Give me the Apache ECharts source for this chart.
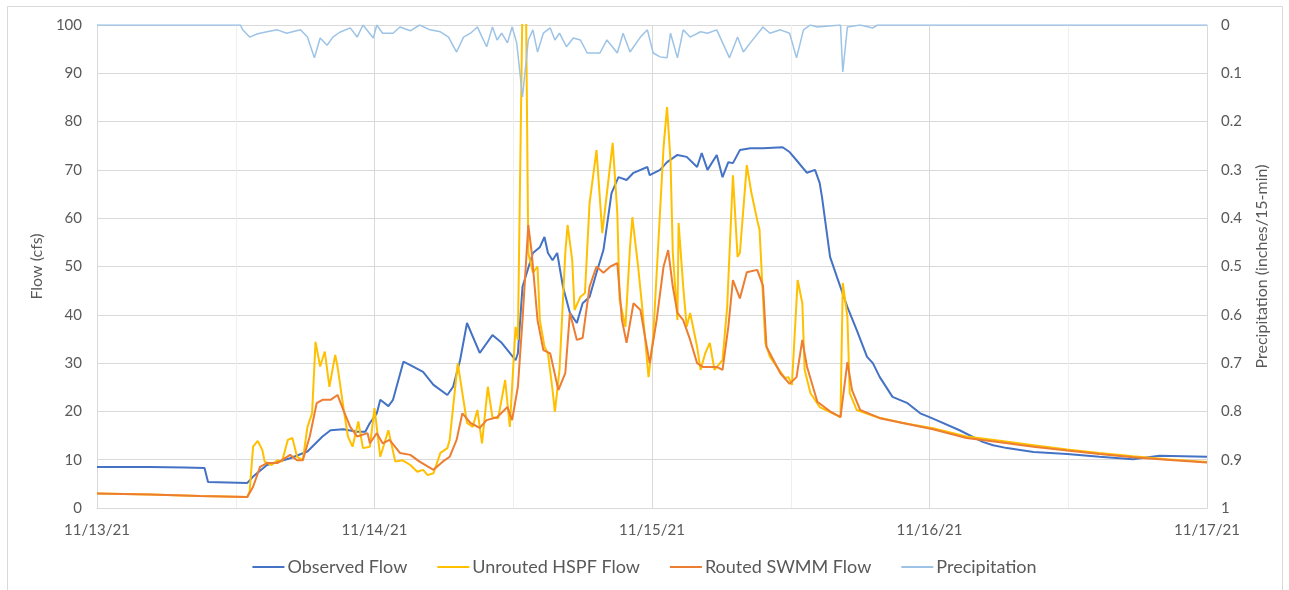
<!DOCTYPE html>
<html>
<head>
<meta charset="utf-8">
<script src="https://cdn.jsdelivr.net/npm/echarts@6/dist/echarts.min.js"></script>
<style>
  html, body { margin: 0; padding: 0; background: #fff; }
  #chart { width: 1289px; height: 590px; }
</style>
</head>
<body>
<div id="chart"></div>
<script>
// x values are hours after 11/13/21 00:00
const dateLabels = ['11/13/21', '11/14/21', '11/15/21', '11/16/21', '11/17/21']

const observedFlow = [
  [0, 8.5], [4.6, 8.5], [7.6, 8.4], [9.3, 8.3], [9.6, 5.4], [13.0, 5.2], [13.5, 6.5],
  [14.7, 8.9], [16.7, 10.3], [18.2, 11.7], [19.5, 14.8], [20.2, 16.1], [21.3, 16.3],
  [22.5, 15.8], [23.2, 15.8], [23.6, 17.6], [24.2, 19.6], [24.5, 22.4], [25.2, 21.1],
  [25.6, 22.4], [26.5, 30.3], [27.1, 29.6], [28.2, 28.2], [29.1, 25.5], [30.3, 23.4],
  [30.8, 25.1], [31.4, 30.6], [32.0, 38.3], [33.1, 32.1], [34.2, 35.8], [35.0, 34.2],
  [36.2, 30.6], [36.4, 32], [36.8, 45.8], [37.7, 52.8], [38.3, 54], [38.7, 56.1],
  [39.0, 52.8], [39.4, 51.3], [39.8, 52.8], [40.3, 45.8], [40.9, 40.4], [41.5, 38.3],
  [42.0, 42.4], [42.6, 43.7], [43.2, 48.7], [43.8, 53.4], [44.5, 65.2], [45.1, 68.5],
  [45.8, 67.9], [46.4, 69.4], [47.6, 70.6], [47.8, 68.9], [48.7, 70], [49.3, 71.6],
  [50.2, 73.1], [51.0, 72.7], [51.9, 70.6], [52.3, 73.5], [52.8, 70], [53.6, 73.1],
  [54.1, 68.5], [54.6, 71.6], [55.0, 71.4], [55.6, 74.1], [56.5, 74.5], [57.6, 74.5],
  [59.3, 74.7], [59.9, 73.7], [60.5, 72], [61.4, 69.4], [62.1, 70], [62.5, 67.3],
  [62.7, 64.4], [63.4, 52], [64.0, 47.8], [64.9, 41.6], [65.7, 36.9], [66.6, 31.3],
  [67.1, 30], [67.7, 27.1], [68.8, 23], [70.1, 21.7], [71.2, 19.6], [72.0, 18.8],
  [72.6, 18.2], [74.6, 16.1], [76.6, 13.7], [77.5, 13], [78.7, 12.4], [81.0, 11.6],
  [83.9, 11.2], [86.7, 10.6], [89.6, 10.1], [91.9, 10.8], [96, 10.6]
]

const unroutedHspf = [
  [0, 3.0], [4.6, 2.8], [8.9, 2.5], [13.0, 2.3], [13.2, 3.5], [13.5, 12.7], [13.9, 13.9],
  [14.3, 12], [14.5, 9.6], [15.1, 8.9], [15.6, 9.9], [16.0, 9.6], [16.5, 14.1], [16.9, 14.5],
  [17.3, 10.6], [17.8, 9.9], [18.2, 16.8], [18.6, 19.6], [18.9, 34.4], [19.3, 29.3],
  [19.7, 32.4], [20.1, 25.1], [20.6, 31.7], [20.8, 29.3], [21.3, 21], [21.7, 14.8],
  [22.1, 12.7], [22.6, 17.9], [23.0, 12.4], [23.6, 12.7], [24.0, 20.7], [24.5, 10.6],
  [25.2, 16.1], [25.8, 9.6], [26.4, 9.9], [27.1, 8.9], [27.7, 7.5], [28.2, 7.9], [28.6, 6.8],
  [29.1, 7.2], [29.7, 11.4], [30.3, 12.4], [30.5, 14.1], [31.2, 30], [31.6, 23.8], [32.0, 17.6],
  [32.5, 16.8], [32.9, 20.3], [33.3, 13.4], [33.8, 25.1], [34.2, 18.8], [34.7, 18.6],
  [35.3, 26.5], [35.7, 16.8], [36.2, 37.5], [36.4, 34.8], [36.8, 105], [37.1, 105],
  [37.3, 52.8], [37.7, 48.7], [38.1, 50], [38.3, 38.9], [38.7, 33.4], [39.0, 32], [39.4, 24.4],
  [39.6, 19.9], [40.0, 28.6], [40.5, 52.8], [40.7, 58.6], [41.1, 51.3], [41.3, 41], [41.8, 43.7],
  [42.2, 44.5], [42.6, 63.1], [43.2, 74.1], [43.7, 56.9], [44.1, 65.2], [44.6, 75.6], [45.0, 61],
  [45.2, 43.1], [45.7, 37.5], [46.1, 54], [46.3, 60.2], [46.5, 56.1], [46.8, 50], [47.2, 40.4],
  [47.7, 27.1], [48.1, 35.4], [48.5, 52.8], [49.0, 74.7], [49.3, 83], [49.6, 72], [49.8, 52.8],
  [50.2, 38.9], [50.3, 59], [50.7, 45.8], [51.0, 37.5], [51.3, 40.4], [51.9, 33.4], [52.2, 28.6],
  [52.6, 32], [53.0, 34.2], [53.4, 28.6], [54.1, 30.6], [54.5, 41.6], [55.0, 68.9], [55.4, 52],
  [55.6, 52.8], [56.2, 71], [56.6, 65.2], [57.1, 59.6], [57.3, 57.6], [57.8, 34.2], [58.2, 31.3],
  [59.5, 26.9], [59.8, 27.1], [60.1, 25.5], [60.6, 47.2], [61.0, 42.4], [61.2, 28.6],
  [61.7, 23.8], [62.5, 20.9], [64.3, 18.8], [64.5, 46.6], [64.9, 39.5], [65.1, 23.8],
  [65.7, 20.3], [67.5, 18.8], [69.7, 17.6], [72.3, 16.5], [75.2, 14.8], [78.1, 13.9],
  [81.0, 13.0], [83.9, 12.1], [86.7, 11.4], [89.6, 10.7], [92.5, 10.1], [96, 9.5]
]

const routedSwmm = [
  [0, 3.0], [4.6, 2.8], [8.9, 2.5], [13.0, 2.3], [13.5, 4.4], [14.1, 8.5], [14.7, 9.3],
  [15.6, 9.3], [16.7, 11], [17.3, 9.9], [17.8, 9.9], [18.4, 14.8], [19.0, 21.7], [19.5, 22.4],
  [20.2, 22.4], [20.8, 23.4], [21.3, 20.3], [21.9, 16.8], [22.5, 14.8], [23.4, 15.5],
  [23.6, 13.4], [24.2, 15.5], [24.7, 13.4], [25.3, 14.1], [26.2, 11.4], [27.1, 11], [27.9, 9.6],
  [29.1, 7.9], [29.9, 9.6], [30.5, 10.6], [31.1, 14.1], [31.6, 19.6], [32.3, 17.6], [33.1, 16.6],
  [33.7, 18.2], [34.6, 18.8], [35.5, 20.9], [35.9, 18.2], [36.4, 25.1], [36.8, 38.9],
  [37.3, 58.6], [37.6, 52.8], [38.1, 38.9], [38.6, 32.7], [39.2, 32], [39.9, 24.4], [40.5, 27.9],
  [40.9, 40.4], [41.5, 34.8], [42.0, 35.2], [42.6, 45.8], [43.2, 50], [43.8, 48.7], [44.4, 50],
  [45.0, 50.7], [45.4, 38.9], [45.8, 34.2], [46.4, 42.4], [47.0, 41], [47.4, 35.4], [47.8, 30],
  [48.4, 38.9], [49.0, 50], [49.4, 53.4], [49.8, 45.8], [50.2, 40.4], [50.7, 38.9], [51.3, 34.8],
  [51.9, 30], [52.4, 29.2], [53.6, 29.2], [54.1, 28.6], [54.6, 37.5], [55.0, 47.2], [55.6, 43.4],
  [56.2, 48.8], [57.1, 49.3], [57.6, 46], [57.9, 33.4], [59.1, 27.9], [59.9, 25.7], [60.5, 27.1],
  [61.0, 34.8], [61.4, 29.3], [62.3, 22], [63.4, 20], [64.3, 18.8], [64.9, 30.2], [65.3, 24.4],
  [66.0, 20.3], [67.7, 18.6], [70.1, 17.4], [72.3, 16.3], [75.2, 14.5], [78.1, 13.6],
  [81.0, 12.7], [83.9, 11.9], [86.7, 11.2], [89.6, 10.5], [92.5, 10], [96, 9.4]
]

const precipitation = [
  [0, 0], [12.4, 0], [12.6, 0.01], [13.2, 0.025], [13.9, 0.018], [14.7, 0.014], [15.6, 0.01],
  [16.4, 0.017], [17.6, 0.01], [18.2, 0.025], [18.8, 0.068], [19.3, 0.027], [19.9, 0.042],
  [20.4, 0.025], [21.0, 0.015], [21.9, 0.006], [22.5, 0.025], [23.0, 0], [23.9, 0.027], [24.2, 0],
  [24.7, 0.017], [25.6, 0.017], [26.2, 0.004], [27.1, 0.012], [27.9, 0], [28.8, 0.01],
  [29.7, 0.014], [30.4, 0.025], [31.1, 0.056], [31.7, 0.025], [32.3, 0.017], [32.9, 0.004],
  [33.3, 0.025], [33.7, 0.045], [34.2, 0.004], [34.6, 0.031], [35.0, 0.017], [35.5, 0.037],
  [35.9, 0.004], [36.3, 0.037], [36.8, 0.149], [37.3, 0.031], [37.7, 0.01], [38.1, 0.056],
  [38.6, 0.017], [39.2, 0.006], [39.6, 0.031], [40.0, 0.017], [40.6, 0.045], [41.2, 0.027],
  [41.8, 0.031], [42.4, 0.058], [43.5, 0.058], [44.1, 0.031], [45.0, 0.058], [45.5, 0.017],
  [46.1, 0.056], [47.0, 0.025], [47.6, 0.01], [48.1, 0.058], [48.7, 0.066], [49.3, 0.068],
  [49.6, 0.017], [50.2, 0.068], [50.7, 0.01], [51.3, 0.025], [52.2, 0.014], [52.8, 0.017],
  [53.6, 0.01], [54.7, 0.068], [55.4, 0.025], [55.9, 0.056], [56.5, 0.037], [57.6, 0.004],
  [58.2, 0.017], [59.1, 0.01], [59.9, 0.017], [60.5, 0.068], [61.1, 0.01], [61.7, 0],
  [62.3, 0.004], [64.3, 0], [64.5, 0.097], [64.9, 0.004], [66.0, 0], [67.1, 0.006], [67.5, 0],
  [96, 0]
]

const textColor = '#595959'
const gridColor = '#d9d9d9'
const fontFamily = 'Lato'

const chart = echarts.init(document.getElementById('chart'))

function lineSeries(name, data, color, width, yAxisIndex) {
  return {
    name: name,
    type: 'line',
    yAxisIndex: yAxisIndex || 0,
    data: data,
    symbol: 'none',
    smooth: false,
    lineStyle: { color: color, width: width },
    itemStyle: { color: color }
  }
}

chart.setOption({
  animation: false,
  textStyle: { fontFamily: fontFamily },
  graphic: [{
    type: 'rect',
    shape: { x: 7.5, y: 6.5, width: 1275, height: 590 },
    style: { fill: 'none', stroke: '#d9d9d9', lineWidth: 1 },
    silent: true
  }],
  grid: { left: 97, right: 82, top: 25, bottom: 82 },
  legend: {
    top: 553,
    left: 'center',
    icon: 'rect',
    itemWidth: 32,
    itemHeight: 2,
    itemGap: 30,
    textStyle: { color: textColor, fontSize: 18, fontFamily: fontFamily, padding: [0, 0, 0, -2] },
    data: ['Observed Flow', 'Unrouted HSPF Flow', 'Routed SWMM Flow', 'Precipitation']
  },
  xAxis: {
    type: 'value',
    min: 0,
    max: 96,
    interval: 12,
    axisLine: { lineStyle: { color: gridColor } },
    axisTick: { show: false },
    axisLabel: {
      color: textColor,
      fontSize: 15,
      margin: 15,
      formatter: v => (v % 24 === 0 ? dateLabels[v / 24] : '')
    },
    splitLine: { show: true, lineStyle: { color: [gridColor, '#efefef'] } }
  },
  yAxis: [{
    type: 'value',
    min: 0,
    max: 100,
    interval: 10,
    name: 'Flow (cfs)',
    nameLocation: 'middle',
    nameRotate: 90,
    nameGap: 40,
    nameTextStyle: { color: textColor, fontSize: 16 },
    axisLine: { show: true, lineStyle: { color: gridColor } },
    axisTick: { show: false },
    axisLabel: { color: textColor, fontSize: 15, margin: 15 },
    splitLine: { lineStyle: { color: gridColor } }
  }, {
    type: 'value',
    min: 0,
    max: 1,
    interval: 0.1,
    inverse: true,
    position: 'right',
    name: 'Precipitation (inches/15-min)',
    nameLocation: 'middle',
    nameRotate: 90,
    nameGap: 47,
    nameTextStyle: { color: textColor, fontSize: 16 },
    axisLine: { show: true, lineStyle: { color: gridColor } },
    axisTick: { show: false },
    axisLabel: { color: textColor, fontSize: 15, margin: 14 },
    splitLine: { show: false }
  }],
  series: [
    lineSeries('Observed Flow', observedFlow, '#4472c4', 2),
    lineSeries('Unrouted HSPF Flow', unroutedHspf, '#ffc000', 2),
    lineSeries('Routed SWMM Flow', routedSwmm, '#ed7d31', 2),
    lineSeries('Precipitation', precipitation, '#9dc3e6', 1.5, 1)
  ]
})
</script>
</body>
</html>
